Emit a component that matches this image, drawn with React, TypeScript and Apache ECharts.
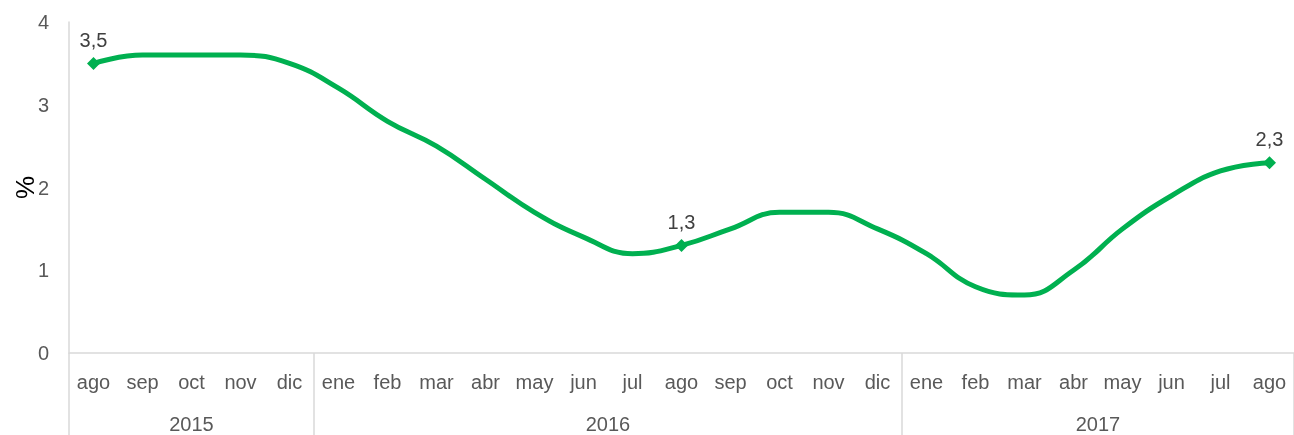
import React, { useEffect, useRef } from "react";
import * as echarts from "echarts";

const months = ["ago","sep","oct","nov","dic","ene","feb","mar","abr","may","jun","jul","ago","sep","oct","nov","dic","ene","feb","mar","abr","may","jun","jul","ago"];
const values = [3.5,3.6,3.6,3.6,3.5,3.2,2.8,2.5,2.1,1.7,1.4,1.2,1.3,1.5,1.7,1.7,1.5,1.2,0.8,0.7,1.0,1.5,1.9,2.2,2.3];
const labelledIdx = [0, 12, 24];
const years = ["2015", "2016", "2017"];
const yearSpans = [5, 12, 8];
const yTicks = [0, 1, 2, 3, 4];

export default function App() {
  const ref = useRef<HTMLDivElement>(null);
  useEffect(() => {
    if (!ref.current) return;
    const chart = echarts.init(ref.current, undefined, { renderer: "svg" });
    const total = months.length;
    const halfCats: string[] = [];
    for (let i = 0; i <= total * 2; i++) halfCats.push("");
    const boundaries: number[] = [0];
    let acc = 0;
    yearSpans.forEach((s, k) => {
      const center = acc * 2 + s;
      halfCats[center] = years[k];
      acc += s;
      boundaries.push(acc * 2);
    });
    const font = "'Liberation Sans', Arial, sans-serif";
    const data = values.map((v, i) =>
      labelledIdx.includes(i)
        ? { value: v, symbol: "diamond", symbolSize: 13, label: { show: true } }
        : { value: v, symbol: "none" }
    );
    chart.setOption({
      animation: false,
      grid: { left: 69, right: 0, top: 22, bottom: 82, containLabel: false, outerBoundsMode: "none" },
      xAxis: [
        {
          type: "category",
          data: months,
          position: "bottom",
          boundaryGap: true,
          axisLine: { show: true, lineStyle: { color: "#d9d9d9", width: 1.5 } },
          axisTick: { show: false },
          axisLabel: { color: "#595959", fontSize: 20, fontFamily: font, margin: 19, interval: 0 },
        },
        {
          type: "category",
          data: halfCats,
          position: "bottom",
          boundaryGap: false,
          axisLine: { show: false },
          axisTick: {
            show: true,
            length: 84,
            interval: (idx: number) => boundaries.includes(idx),
            lineStyle: { color: "#d9d9d9", width: 1.5 },
          },
          axisLabel: {
            color: "#595959",
            fontSize: 20,
            fontFamily: font,
            margin: 61,
            interval: 0,
            showMinLabel: true,
            showMaxLabel: true,
          },
        },
      ],
      yAxis: {
        type: "value",
        min: yTicks[0],
        max: yTicks[yTicks.length - 1],
        interval: 1,
        name: "%",
        nameLocation: "middle",
        nameRotate: 90,
        nameGap: 31,
        nameMoveOverlap: false,
        nameTextStyle: { color: "#000", fontSize: 26, fontFamily: font },
        axisLine: { show: true, lineStyle: { color: "#d9d9d9", width: 1.5 } },
        axisTick: { show: false },
        splitLine: { show: false },
        axisLabel: { color: "#595959", fontSize: 20, fontFamily: font, margin: 20 },
      },
      series: [
        {
          type: "line",
          xAxisIndex: 0,
          data,
          smooth: 0.45,
          lineStyle: { color: "#00B050", width: 5 },
          itemStyle: { color: "#00B050" },
          label: {
            position: "top",
            distance: 7,
            color: "#404040",
            fontSize: 20,
            fontFamily: font,
            formatter: (p: any) => String(p.value.toFixed(1)).replace(".", ","),
          },
        },
      ],
    });
    return () => chart.dispose();
  }, []);
  return <div ref={ref} style={{ position: "fixed", left: 0, top: 0, width: 1294, height: 435 }} />;
}
